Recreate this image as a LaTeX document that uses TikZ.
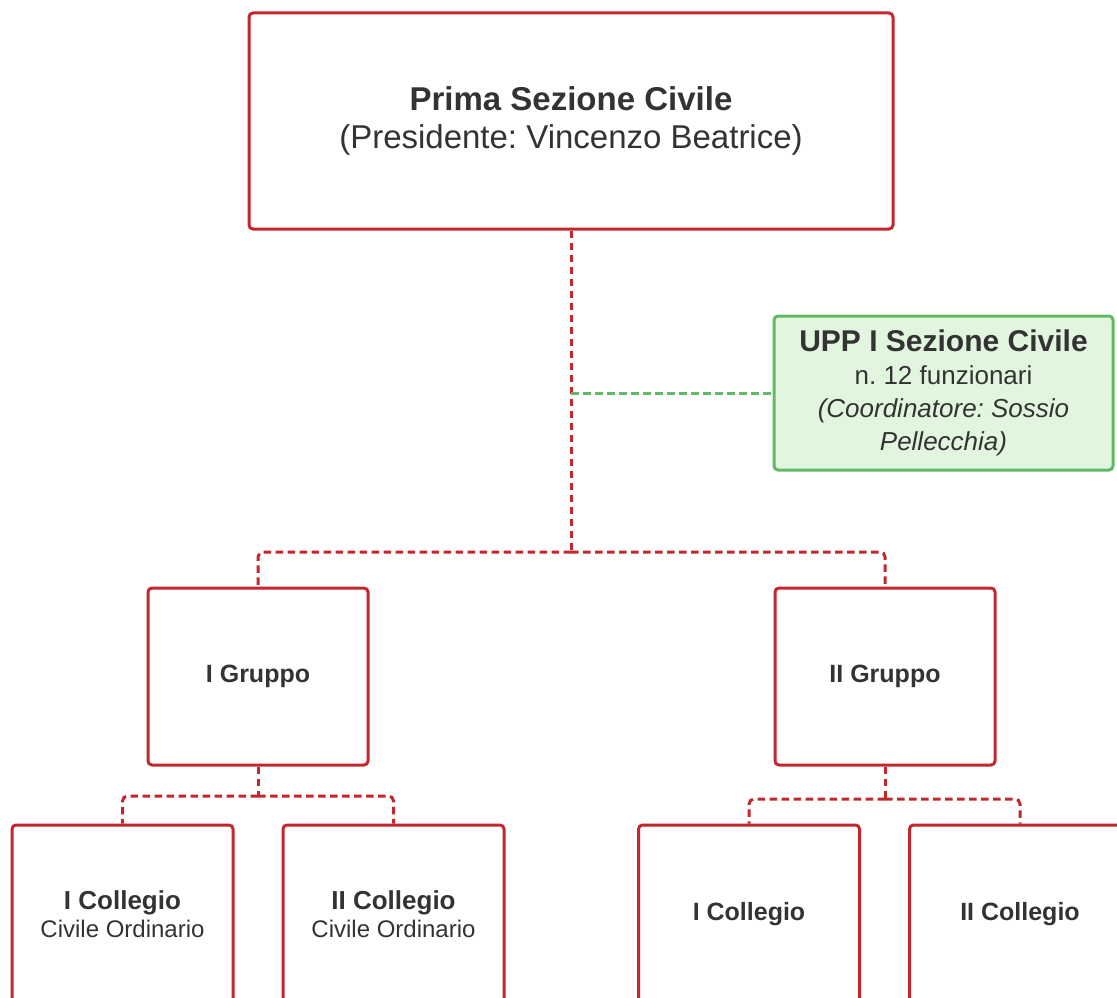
\documentclass[tikz,border=0pt]{standalone}
\usepackage{fontspec}
\setmainfont{Liberation Sans}
\frenchspacing
\definecolor{boxred}{HTML}{C4262E}
\definecolor{ink}{HTML}{333333}
\definecolor{uppfill}{HTML}{E2F6DF}
\definecolor{uppline}{HTML}{62B865}
\begin{document}
\begin{tikzpicture}[x=1pt,y=-1pt,
  unit/.style={draw=boxred, line width=3pt, rounded corners=4pt, fill=white,
    text=ink, align=center, inner sep=0pt},
  upp/.style={unit, draw=uppline, fill=uppfill},
  link/.style={draw=boxred, line width=3pt, dash pattern=on 7.5pt off 4.5pt, rounded corners=5pt},
  uppl/.style={link, draw=uppline},
  body/.style={font=\fontsize{25}{30}\selectfont}]
\useasboundingbox (0,0) rectangle (1117,998);
\clip (0,0) rectangle (1117,998);

% sezione
\node[unit, minimum width=644pt, minimum height=216pt,
  font=\fontsize{33}{38}\selectfont] (sez) at (571,121)
  {\textbf{Prima Sezione Civile}\\(Presidente: Vincenzo Beatrice)};

% ufficio per il processo
\node[upp, minimum width=339pt, minimum height=154pt,
  font=\fontsize{26}{33}\selectfont] (uppbox) at (943.5,393)
  {{\fontsize{30}{33}\selectfont\bfseries UPP I Sezione Civile}\\
   n. 12 funzionari\\
   \textit{(Coordinatore: Sossio}\\
   \textit{Pellecchia)}};

% gruppi
\node[unit, minimum width=220pt, minimum height=177pt, body] (g1) at (258,676.5)
  {\textbf{I Gruppo}};
\node[unit, minimum width=220pt, minimum height=177pt, body] (g2) at (885,676.5)
  {\textbf{II Gruppo}};

% collegi
\node[unit, minimum width=221pt, minimum height=178pt, body] (c1) at (122.5,914)
  {{\fontsize{26}{30}\selectfont\bfseries I Collegio}\\[-2pt]{\fontsize{24}{30}\selectfont Civile Ordinario}};
\node[unit, minimum width=221pt, minimum height=178pt, body] (c2) at (393.5,914)
  {{\fontsize{26}{30}\selectfont\bfseries II Collegio}\\[-2pt]{\fontsize{24}{30}\selectfont Civile Ordinario}};
\node[unit, minimum width=221pt, minimum height=178pt, body] (c3) at (749,914)
  {\textbf{I Collegio}};
\node[unit, minimum width=221pt, minimum height=178pt, body] (c4) at (1020,914)
  {\textbf{II Collegio}};

% connectors
\coordinate (jtop) at (571,552);
\coordinate (jupp) at (571,393);
\coordinate (jg1) at (258,796);
\coordinate (jg2) at (885,799);

\draw[link] (sez.south) -- (jtop);
\draw[link] (jtop) -| (g1.north);
\draw[link] (jtop) -| (g2.north);
\draw[uppl] (jupp) -- (uppbox.west);

\draw[link] (g1.south) -- (jg1);
\draw[link] (jg1) -| (c1.north);
\draw[link] (jg1) -| (c2.north);
\draw[link] (g2.south) -- (jg2);
\draw[link] (jg2) -| (c3.north);
\draw[link] (jg2) -| (c4.north);
\end{tikzpicture}
\end{document}
